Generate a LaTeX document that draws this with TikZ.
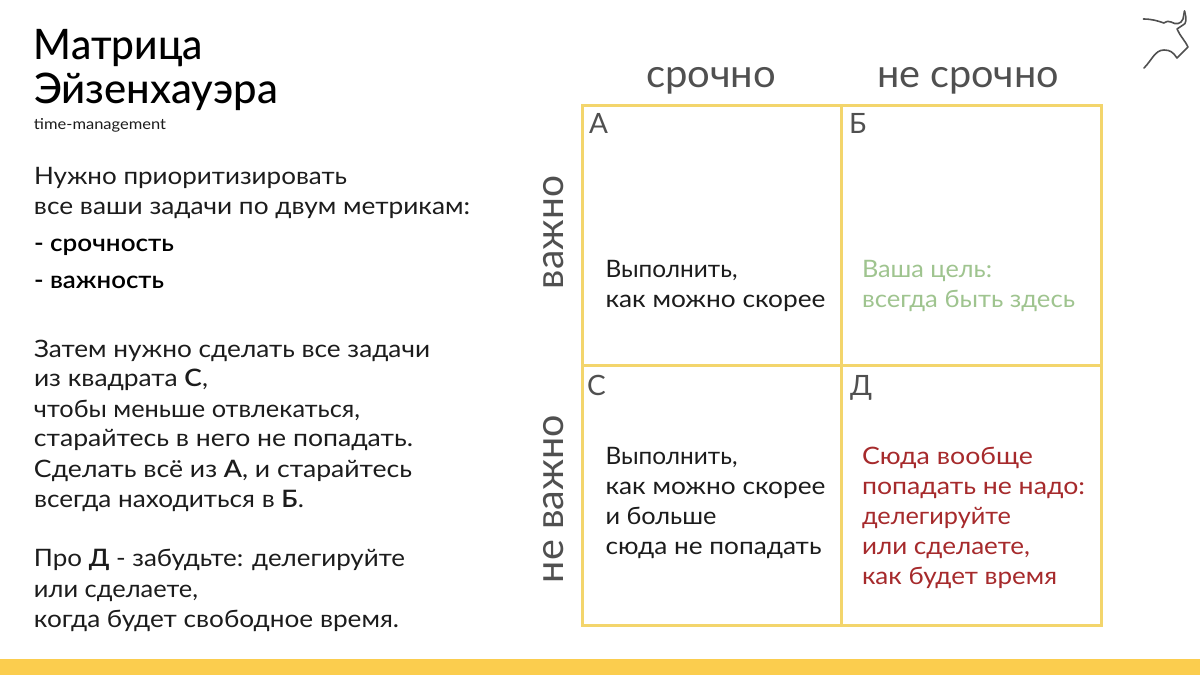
\documentclass[tikz,border=0pt]{standalone}
\usepackage{fontspec}
\usepackage{graphicx}
\setmainfont{Lato}
\newfontfamily\boldish{Lato}[UprightFont=* Semibold]
\newfontfamily\titleface{Lato}[UprightFont=* Medium]
\newcommand{\fitw}[2]{\resizebox{#1pt}{\height}{#2}}
\definecolor{gridyellow}{HTML}{F3D56C}
\definecolor{baryellow}{HTML}{FBCD4E}
\definecolor{inkdark}{HTML}{1C1C1C}
\definecolor{inkgrey}{HTML}{505050}
\definecolor{goodgreen}{HTML}{9FC48F}
\definecolor{badred}{HTML}{A62A2C}
\tikzset{
  every node/.style={inner sep=0pt,outer sep=0pt,anchor=base west},
  titletext/.style={font=\fontsize{42}{42}\titleface\selectfont,text=black},
  subtext/.style={font=\fontsize{15}{15}\selectfont,text=inkdark},
  bodytext/.style={font=\fontsize{24}{24}\selectfont,text=inkdark},
  strongtext/.style={font=\fontsize{24}{24}\boldish\selectfont,text=black},
  axistext/.style={font=\fontsize{39}{39}\selectfont,text=inkgrey},
  lettertext/.style={font=\fontsize{28}{28}\selectfont,text=inkgrey},
  grid line/.style={draw=gridyellow,line width=3pt},
  logo line/.style={draw=inkgrey,line width=1.6pt,line cap=round,line join=round}
}
\begin{document}
\begin{tikzpicture}[x=1pt,y=-1pt]
\useasboundingbox (0,0) rectangle (1200,675);
\fill[white] (0,0) rectangle (1200,675);
\fill[baryellow] (0,659) rectangle (1200,675);
% grid
\coordinate (tl) at (582,105); \coordinate (tr) at (1101,105);
\coordinate (bl) at (582,625); \coordinate (br) at (1101,625);
\coordinate (tm) at (841,105); \coordinate (bm) at (841,625);
\coordinate (ml) at (582,365); \coordinate (mr) at (1101,365);
\draw[grid line] (tl) rectangle (br);
\draw[grid line] (tm) -- (bm);
\draw[grid line] (ml) -- (mr);
% left column
\node[titletext] (t1) at (34,59) {\fitw{169}{Матрица}};
\node[titletext] (t2) at (34,103) {\fitw{244}{Эйзенхауэра}};
\node[subtext] (t3) at (34,129) {\fitw{132}{time-management}};
\node[bodytext] (b1) at (34,184) {\fitw{313}{Нужно приоритизировать}};
\node[bodytext] (b2) at (34,214) {\fitw{436}{все ваши задачи по двум метрикам:}};
\node[strongtext] (b3) at (34,251) {\fitw{140}{- срочность}};
\node[strongtext] (b4) at (34,288) {\fitw{130}{- важность}};
\node[bodytext] (b5) at (34,357) {\fitw{396}{Затем нужно сделать все задачи}};
\node[bodytext] (b6) at (34,386.5) {\fitw{174}{из квадрата {\boldish С},}};
\node[bodytext] (b7) at (34,417) {\fitw{326}{чтобы меньше отвлекаться,}};
\node[bodytext] (b8) at (34,446.5) {\fitw{379}{старайтесь в него не попадать.}};
\node[bodytext] (b9) at (34,477) {\fitw{378}{Сделать всё из {\boldish А}, и старайтесь}};
\node[bodytext] (b10) at (34,507) {\fitw{270}{всегда находиться в {\boldish Б}.}};
\node[bodytext] (b11) at (34,566) {\fitw{371}{Про {\boldish Д} - забудьте: делегируйте}};
\node[bodytext] (b12) at (34,597) {\fitw{164}{или сделаете,}};
\node[bodytext] (b13) at (34,627) {\fitw{365}{когда будет свободное время.}};
% axis labels
\node[axistext] (h1) at (646,87.5) {\fitw{130}{срочно}};
\node[axistext] (h2) at (877,87.5) {\fitw{182}{не срочно}};
\node[axistext,rotate=90] (v1) at (563.5,289) {\fitw{113}{важно}};
\node[axistext,rotate=90] (v2) at (563.5,583) {\fitw{168}{не важно}};
% cell letters
\node[lettertext] (la) at (589,133) {А};
\node[lettertext] (lb) at (849,133) {Б};
\node[lettertext] (lc) at (587,395) {С};
\node[lettertext] (ld) at (850,395) {Д};
% cell A
\node[bodytext] (a1) at (605.5,277) {\fitw{132}{Выполнить,}};
\node[bodytext] (a2) at (605.5,307) {\fitw{220}{как можно скорее}};
% cell B
\node[bodytext,text=goodgreen] (g1) at (862,277) {\fitw{130}{Ваша цель:}};
\node[bodytext,text=goodgreen] (g2) at (862,307) {\fitw{213}{всегда быть здесь}};
% cell C
\node[bodytext] (c1) at (605.5,464) {\fitw{132}{Выполнить,}};
\node[bodytext] (c2) at (605.5,494) {\fitw{220}{как можно скорее}};
\node[bodytext] (c3) at (605.5,524) {\fitw{111}{и больше}};
\node[bodytext] (c4) at (605.5,554) {\fitw{216}{сюда не попадать}};
% cell D
\node[bodytext,text=badred] (d1) at (862,464) {\fitw{171}{Сюда вообще}};
\node[bodytext,text=badred] (d2) at (862,494) {\fitw{223}{попадать не надо:}};
\node[bodytext,text=badred] (d3) at (862,524) {\fitw{149}{делегируйте}};
\node[bodytext,text=badred] (d4) at (862,554) {\fitw{168}{или сделаете,}};
\node[bodytext,text=badred] (d5) at (862,584) {\fitw{195}{как будет время}};
% logo
\draw[logo line] (1143.5,19) .. controls (1152,19) and (1158,21) .. (1164,23) .. controls (1167,21) and (1169,21) .. (1171,22) .. controls (1176,25) and (1181,24) .. (1183,19) -- (1184.5,11);
\draw[logo line] (1184.5,11) .. controls (1187,20) and (1186,24) .. (1183,25) -- (1177,29) .. controls (1180,36) and (1186,42) .. (1188,47) -- (1177,58) .. controls (1173,52) and (1170,50) .. (1164,50) .. controls (1155,50) and (1152,60) .. (1144,68);
\end{tikzpicture}
\end{document}
